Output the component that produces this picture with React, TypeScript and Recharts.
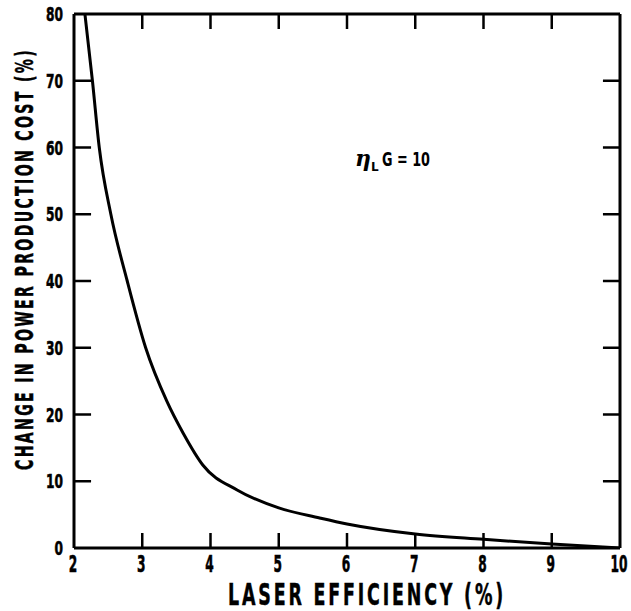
import React from 'react';
import { LineChart, Line, XAxis, YAxis, ReferenceLine } from 'recharts';

const laserEfficiency = [2.16, 2.27, 2.37, 2.54, 2.78, 3.05, 3.36, 3.6, 3.89, 4.39, 5.0, 5.6, 6.0, 7.0, 8.0, 9.0, 10.0];
const costChange = [80, 70, 60, 50, 40, 30, 22, 17.2, 12.4, 8.7, 6.0, 4.5, 3.6, 2.1, 1.3, 0.6, 0];
const xTicks = [2, 3, 4, 5, 6, 7, 8, 9, 10];
const yTicks = [0, 10, 20, 30, 40, 50, 60, 70, 80];

const data = laserEfficiency.map((eff, i) => ({ eff, cost: costChange[i] }));

const xMin = 2;
const xMax = 10;
const yMin = 0;
const yMax = 80;
// inward tick mark lengths, in axis units (~15px and ~17px)
const xTickLen = 2.25;
const yTickLen = 0.25;

const font = "'DejaVu Sans', sans-serif";
const ink = '#000';

const BottomTick = (props: any) => {
  const { x, y, payload } = props;
  const s = String(payload.value);
  return (
    <text
      x={x - 1}
      y={y + 24}
      textAnchor="middle"
      textLength={s.length * 8.5}
      lengthAdjust="spacingAndGlyphs"
      fontFamily={font}
      fontWeight="bold"
      fontSize={23}
      fill={ink}
      stroke={ink}
      strokeWidth={0.6}
    >
      {s}
    </text>
  );
};

const LeftTick = (props: any) => {
  const { x, y, payload } = props;
  const s = String(payload.value);
  return (
    <text
      x={x - 11 - s.length * 8.5}
      y={y + 7}
      textLength={s.length * 8.5}
      lengthAdjust="spacingAndGlyphs"
      fontFamily={font}
      fontWeight="bold"
      fontSize={20}
      fill={ink}
      stroke={ink}
      strokeWidth={0.6}
    >
      {s}
    </text>
  );
};

export default function App() {
  return (
    <div style={{ position: 'absolute', left: 0, top: 0, background: '#fff' }}>
      <LineChart width={631} height={611} data={data} margin={{ top: 0, right: 0, bottom: 0, left: 0 }}>
        <XAxis
          dataKey="eff"
          type="number"
          domain={[xMin, xMax]}
          ticks={xTicks}
          interval={0}
          height={63}
          tickSize={0}
          tickMargin={0}
          tickLine={false}
          axisLine={{ stroke: ink, strokeWidth: 3 }}
          tick={BottomTick}
          allowDataOverflow
        />
        <XAxis
          xAxisId="top"
          orientation="top"
          dataKey="eff"
          type="number"
          domain={[xMin, xMax]}
          height={14}
          tick={false}
          tickLine={false}
          axisLine={{ stroke: ink, strokeWidth: 3 }}
        />
        <YAxis
          type="number"
          domain={[yMin, yMax]}
          ticks={yTicks}
          interval={0}
          width={74}
          tickSize={0}
          tickMargin={0}
          tickLine={false}
          axisLine={{ stroke: ink, strokeWidth: 3 }}
          tick={LeftTick}
          allowDataOverflow
        />
        <YAxis
          yAxisId="right"
          orientation="right"
          type="number"
          domain={[yMin, yMax]}
          width={11}
          tick={false}
          tickLine={false}
          axisLine={{ stroke: ink, strokeWidth: 3 }}
        />
        {xTicks.slice(1, -1).map((t) => (
          <ReferenceLine
            key={`b${t}`}
            segment={[{ x: t, y: yMin }, { x: t, y: yMin + xTickLen }]}
            stroke={ink}
            strokeWidth={2.5}
          />
        ))}
        {xTicks.slice(1, -1).map((t) => (
          <ReferenceLine
            key={`t${t}`}
            segment={[{ x: t, y: yMax }, { x: t, y: yMax - xTickLen }]}
            stroke={ink}
            strokeWidth={2.5}
          />
        ))}
        {yTicks.slice(1, -1).map((t) => (
          <ReferenceLine
            key={`l${t}`}
            segment={[{ x: xMin, y: t }, { x: xMin + yTickLen, y: t }]}
            stroke={ink}
            strokeWidth={2.5}
          />
        ))}
        {yTicks.slice(1, -1).map((t) => (
          <ReferenceLine
            key={`r${t}`}
            segment={[{ x: xMax, y: t }, { x: xMax - yTickLen, y: t }]}
            stroke={ink}
            strokeWidth={2.5}
          />
        ))}
        <Line
          type="monotone"
          dataKey="cost"
          stroke={ink}
          strokeWidth={3}
          dot={false}
          activeDot={false}
          isAnimationActive={false}
        />
        <text
          transform="translate(33,470) rotate(-90)"
          textLength={422}
          lengthAdjust="spacingAndGlyphs"
          letterSpacing={4}
          fontFamily={font}
          fontWeight="bold"
          fontSize={24}
          fill={ink}
          stroke={ink}
          strokeWidth={0.5}
        >
          CHANGE IN POWER PRODUCTION COST (%)
        </text>
        <text
          x={228}
          y={605}
          textLength={278}
          lengthAdjust="spacingAndGlyphs"
          letterSpacing={5}
          fontFamily={font}
          fontWeight="bold"
          fontSize={31}
          fill={ink}
          stroke={ink}
          strokeWidth={0.5}
        >
          LASER EFFICIENCY (%)
        </text>
        <text x={355} y={166} fontFamily={font} fontWeight="bold" fontSize={19} fill={ink}>
          <tspan fontFamily="'DejaVu Serif', serif" fontStyle="italic" fontSize={22}>η</tspan>
          <tspan dy={5} fontSize={12}>L</tspan>
        </text>
        <text
          x={382}
          y={166}
          textLength={48}
          lengthAdjust="spacingAndGlyphs"
          fontFamily={font}
          fontWeight="bold"
          fontSize={19}
          fill={ink}
        >
          G = 10
        </text>
      </LineChart>
    </div>
  );
}
